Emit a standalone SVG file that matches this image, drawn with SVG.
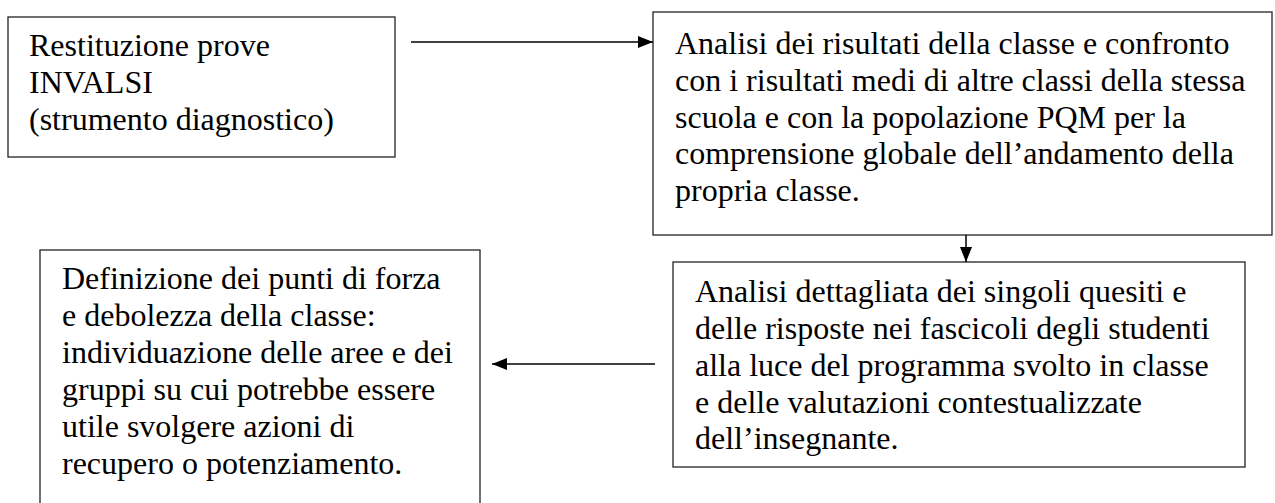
<svg xmlns="http://www.w3.org/2000/svg" width="1275" height="503" viewBox="0 0 1275 503">
<defs>
<style>
.box{fill:#fff;stroke:#222;stroke-width:1.3}
.t{font-family:"Liberation Serif","Times New Roman",serif;font-size:32px;fill:#000}
.c{stroke:#000;stroke-width:1.5;fill:none}
</style>
<marker id="ah" viewBox="0 0 10 10" refX="10" refY="5" markerWidth="10" markerHeight="10" markerUnits="userSpaceOnUse" orient="auto">
<path d="M0,0 L10,5 L0,10 z" fill="#000"/>
</marker>
<marker id="ah2" viewBox="0 0 15 12" refX="15" refY="6" markerWidth="15" markerHeight="12" markerUnits="userSpaceOnUse" orient="auto">
<path d="M0,0 L15,6 L0,12 z" fill="#000"/>
</marker>
</defs>
<rect width="1275" height="503" fill="#fff"/>
<g id="n1">
<rect class="box" x="8" y="17" width="387" height="140"/>
<text class="t" x="29" y="56">Restituzione prove</text>
<text class="t" x="29" y="93">INVALSI</text>
<text class="t" x="29" y="130">(strumento diagnostico)</text>
</g>
<g id="n2">
<rect class="box" x="653" y="12" width="619" height="223"/>
<text class="t" x="675" y="54">Analisi dei risultati della classe e confronto</text>
<text class="t" x="675" y="91">con i risultati medi di altre classi della stessa</text>
<text class="t" x="675" y="128">scuola e con la popolazione PQM per la</text>
<text class="t" x="675" y="164">comprensione globale dell’andamento della</text>
<text class="t" x="675" y="201">propria classe.</text>
</g>
<g id="n4">
<rect class="box" x="673" y="262" width="572" height="205"/>
<text class="t" x="695" y="302">Analisi dettagliata dei singoli quesiti e</text>
<text class="t" x="695" y="339">delle risposte nei fascicoli degli studenti</text>
<text class="t" x="695" y="376">alla luce del programma svolto in classe</text>
<text class="t" x="695" y="413">e delle valutazioni contestualizzate</text>
<text class="t" x="695" y="449">dell’insegnante.</text>
</g>
<g id="n3">
<rect class="box" x="40" y="250" width="440" height="262"/>
<text class="t" x="62" y="289">Definizione dei punti di forza</text>
<text class="t" x="62" y="326">e debolezza della classe:</text>
<text class="t" x="62" y="363">individuazione delle aree e dei</text>
<text class="t" x="62" y="400">gruppi su cui potrebbe essere</text>
<text class="t" x="62" y="437">utile svolgere azioni di</text>
<text class="t" x="62" y="474">recupero o potenziamento.</text>
</g>
<g id="connectors">
<line class="c" x1="411" y1="42" x2="653" y2="42" marker-end="url(#ah2)"/>
<line class="c" x1="966" y1="235" x2="966" y2="262" marker-end="url(#ah2)"/>
<line class="c" x1="655" y1="364" x2="492" y2="364" marker-end="url(#ah2)"/>
</g>
</svg>
